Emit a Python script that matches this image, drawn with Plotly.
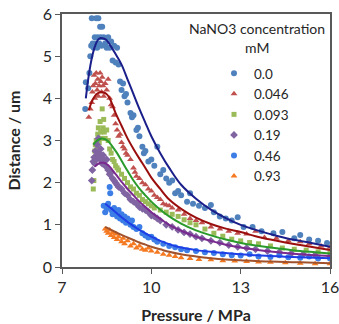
import plotly.graph_objects as go

# ---------------- data ----------------
series_names = ["0.0", "0.046", "0.093", "0.19", "0.46", "0.93"]

x_00 = [7.78,7.80,7.88,7.92,7.95,7.98,8.0,8.03,8.06,8.1,8.12,8.15,8.18,8.2,8.22,8.25,8.28,8.3,8.33,8.35,8.4,8.45,8.5,8.55,8.6,8.65,8.7,8.75,8.8,8.85,8.9,8.95,9.0,9.05,9.1,9.15,9.2,9.3,9.35,9.4,9.5,9.55,9.6,9.7,9.75,9.8,9.9,10.0,10.1,10.2,10.3,10.4,10.5,10.6,10.7,10.8,10.9,11.0,11.2,11.3,11.4,11.6,11.8,12.0,12.1,12.3,12.5,12.7,12.9,13.1,13.4,13.7,14.1,14.4,14.8,15.0,15.3,15.6,15.9]
y_00 = [3.75,4.38,4.24,4.6,5.0,5.25,5.9,5.3,5.2,5.45,5.3,5.9,5.2,5.45,5.9,5.3,5.7,5.45,5.25,5.7,5.45,5.3,5.2,5.45,5.2,5.35,4.9,5.25,4.85,5.2,4.8,4.4,4.2,4.35,4.05,4.1,3.9,3.65,3.55,3.6,3.25,3.3,3.1,2.85,2.7,2.75,2.5,2.55,2.4,2.85,2.2,2.3,2.1,2.0,2.05,1.75,1.8,1.7,1.55,1.75,1.5,1.45,1.4,1.47,1.3,1.2,1.15,1.1,1.18,0.95,0.95,0.85,0.8,0.83,0.68,0.76,0.65,0.62,0.57]

x_046 = [7.9,7.95,8.0,8.02,8.05,8.08,8.1,8.12,8.15,8.18,8.2,8.22,8.25,8.28,8.3,8.33,8.35,8.38,8.4,8.45,8.5,8.55,8.6,8.65,8.7,8.75,8.8,8.85,8.9,8.95,9.0,9.05,9.1,9.15,9.2,9.3,9.4,9.45,9.5,9.6,9.7,9.8,9.9,10.0,10.1,10.2,10.3,10.4,10.5,10.6,10.7,10.9,11.1,11.3,11.5,11.7,12.0,12.3,12.6,12.9,13.2,13.5,13.8,14.2,14.6,15.0,15.3,15.7,16.0]
y_046 = [3.55,3.75,3.9,4.15,4.3,4.55,4.0,4.35,4.6,4.2,4.45,4.05,4.3,4.6,4.4,4.15,4.5,4.3,4.05,4.35,4.2,4.45,4.0,3.85,3.8,3.6,3.4,3.25,3.1,3.15,2.95,2.85,2.8,2.7,2.65,2.55,2.35,2.25,2.15,2.1,2.0,1.95,1.85,1.8,1.7,1.65,1.6,1.5,1.47,1.45,1.4,1.35,1.25,1.15,1.1,1.05,0.95,0.9,0.85,0.8,0.78,0.85,0.7,0.68,0.62,0.6,0.55,0.5,0.47]

x_093 = [8.05,8.07,8.1,8.12,8.15,8.18,8.2,8.22,8.25,8.28,8.3,8.32,8.35,8.38,8.4,8.42,8.45,8.5,8.55,8.6,8.65,8.7,8.75,8.8,8.85,8.9,9.0,9.1,9.2,9.3,9.4,9.5,9.6,9.7,9.8,9.9,10.0,10.1,10.3,10.5,10.7,10.9,11.1,11.3,11.5,11.8,12.1,12.4,12.7,13.0,13.3,13.6,14.0,14.4,14.8,15.2,15.6,16.0]
y_093 = [1.85,2.05,2.75,2.9,3.0,2.85,3.15,3.3,2.95,3.45,3.2,3.05,3.75,3.3,3.5,3.2,3.05,3.25,3.0,2.8,2.7,2.55,2.5,2.4,2.35,2.3,2.2,2.1,2.0,1.9,1.85,1.75,1.7,1.6,1.55,1.5,1.45,1.4,1.35,1.3,1.25,1.2,1.12,1.05,1.0,0.9,0.8,0.73,0.66,0.62,0.58,0.55,0.5,0.45,0.42,0.4,0.36,0.33]

x_019 = [8.0,8.02,8.05,8.08,8.1,8.12,8.15,8.18,8.2,8.22,8.25,8.28,8.3,8.32,8.35,8.38,8.4,8.45,8.5,8.55,8.6,8.65,8.7,8.75,8.8,8.85,8.9,9.0,9.1,9.2,9.3,9.4,9.5,9.6,9.7,9.8,9.9,10.0,10.1,10.2,10.3,10.5,10.7,10.9,11.1,11.3,11.5,11.7,12.0,12.3,12.6,12.9,13.2,13.5,13.9,14.3,14.7,15.1,15.5,16.0]
y_019 = [2.05,2.3,2.5,2.6,2.45,2.75,2.55,2.9,2.65,3.05,2.7,2.55,2.8,2.6,2.45,2.65,2.5,2.4,2.55,2.3,2.2,2.25,2.1,2.05,2.0,1.95,1.9,1.85,1.75,1.7,1.6,1.55,1.5,1.42,1.38,1.35,1.3,1.22,1.2,1.15,1.1,1.0,0.95,0.88,0.82,0.78,0.72,0.68,0.62,0.58,0.52,0.48,0.45,0.42,0.38,0.35,0.32,0.3,0.28,0.25]

x_046b = [8.4,8.45,8.5,8.55,8.6,8.62,8.65,8.7,8.75,8.8,8.85,8.9,8.95,9.0,9.05,9.1,9.15,9.2,9.3,9.35,9.4,9.5,9.6,9.7,9.8,9.9,10.0,10.1,10.2,10.4,10.6,10.8,11.0,11.2,11.5,11.8,12.1,12.4,12.7,13.0,13.3,13.6,14.0,14.3,14.6,15.0,15.3,15.6,16.0]
y_046b = [1.45,1.3,1.4,1.5,1.9,1.75,1.35,1.25,1.4,1.3,1.2,1.35,1.15,1.25,1.1,1.2,1.05,1.15,1.0,1.1,0.95,0.9,0.95,0.8,0.75,0.7,0.72,0.65,0.6,0.55,0.5,0.47,0.42,0.4,0.38,0.35,0.33,0.3,0.28,0.27,0.3,0.25,0.24,0.28,0.23,0.22,0.25,0.2,0.2]

x_093b = [8.45,8.5,8.55,8.6,8.65,8.7,8.75,8.8,8.85,8.9,9.0,9.05,9.1,9.2,9.3,9.4,9.5,9.6,9.7,9.8,9.9,10.0,10.2,10.4,10.6,10.8,11.0,11.3,11.6,12.0,12.4,12.8,13.2,13.6,14.0,14.5,15.0,15.5,16.0]
y_093b = [0.9,0.85,0.8,0.88,0.75,0.82,0.7,0.78,0.65,0.72,0.6,0.68,0.55,0.62,0.5,0.55,0.45,0.5,0.42,0.4,0.45,0.38,0.35,0.3,0.28,0.25,0.22,0.2,0.18,0.17,0.15,0.14,0.13,0.12,0.11,0.1,0.09,0.08,0.08]

# fitted curves
fx_00 = [7.8,7.9,8.0,8.1,8.2,8.3,8.4,8.5,8.6,8.8,9.0,9.2,9.4,9.6,9.8,10.0,10.3,10.6,11.0,11.5,12.0,12.5,13.0,13.5,14.0,14.5,15.0,15.5,16.0]
fy_00 = [4.0,4.55,4.95,5.22,5.38,5.43,5.42,5.38,5.28,5.05,4.8,4.45,4.1,3.75,3.42,3.1,2.7,2.35,1.95,1.62,1.36,1.16,1.0,0.88,0.78,0.69,0.62,0.55,0.48]

fx_046 = [7.9,8.0,8.1,8.2,8.3,8.4,8.5,8.6,8.8,9.0,9.2,9.4,9.6,9.8,10.0,10.3,10.6,11.0,11.5,12.0,12.5,13.0,13.5,14.0,14.5,15.0,15.5,16.0]
fy_046 = [3.72,3.92,4.05,4.12,4.15,4.14,4.1,4.0,3.65,3.35,3.05,2.8,2.57,2.35,2.12,1.85,1.6,1.38,1.17,1.02,0.91,0.83,0.73,0.65,0.58,0.52,0.46,0.4]

fx_093 = [8.05,8.15,8.25,8.35,8.45,8.55,8.7,8.85,9.0,9.2,9.4,9.6,9.8,10.0,10.3,10.6,11.0,11.5,12.0,12.5,13.0,13.5,14.0,14.5,15.0,15.5,16.0]
fy_093 = [2.9,2.98,3.03,3.05,3.03,2.98,2.85,2.7,2.52,2.28,2.05,1.86,1.7,1.55,1.36,1.2,1.03,0.87,0.75,0.65,0.57,0.51,0.46,0.42,0.38,0.35,0.32]

fx_019 = [8.1,8.2,8.3,8.4,8.5,8.6,8.8,9.0,9.2,9.4,9.6,9.8,10.0,10.3,10.6,11.0,11.5,12.0,12.5,13.0,13.5,14.0,14.5,15.0,15.5,16.0]
fy_019 = [2.38,2.44,2.47,2.47,2.44,2.38,2.2,2.02,1.85,1.7,1.55,1.42,1.3,1.14,1.0,0.86,0.72,0.62,0.53,0.46,0.41,0.37,0.33,0.3,0.28,0.26]

fx_046b = [8.45,8.6,8.8,9.0,9.2,9.4,9.6,9.8,10.0,10.3,10.6,11.0,11.5,12.0,12.5,13.0,13.5,14.0,14.5,15.0,15.5,16.0]
fy_046b = [1.5,1.42,1.3,1.18,1.07,0.97,0.88,0.8,0.72,0.62,0.54,0.46,0.4,0.36,0.33,0.3,0.28,0.26,0.245,0.23,0.22,0.21]

fx_093b = [8.45,8.6,8.8,9.0,9.2,9.4,9.6,9.8,10.0,10.3,10.6,11.0,11.5,12.0,12.5,13.0,13.5,14.0,14.5,15.0,15.5,16.0]
fy_093b = [0.95,0.9,0.83,0.76,0.7,0.64,0.58,0.53,0.48,0.42,0.36,0.3,0.25,0.21,0.18,0.16,0.14,0.13,0.12,0.11,0.1,0.09]

x_ticks = [7, 10, 13, 16]
y_ticks = [0, 1, 2, 3, 4, 5, 6]
legend_title_lines = ["NaNO3 concentration", "mM"]

# ---------------- styles ----------------
pts = [(x_00, y_00), (x_046, y_046), (x_093, y_093), (x_019, y_019), (x_046b, y_046b), (x_093b, y_093b)]
fits = [(fx_00, fy_00), (fx_046, fy_046), (fx_093, fy_093), (fx_019, fy_019), (fx_046b, fy_046b), (fx_093b, fy_093b)]
mcolors = ["#4F81BD", "#C0504D", "#9BBB59", "#8064A2", "#3C7EE6", "#F47920"]
msymbols = ["circle", "triangle-up", "square", "diamond", "circle", "triangle-up"]
msizes = [6, 6, 5, 6, 6, 6]
lcolors = ["#1B1F8A", "#9A0E0E", "#2A9A2A", "#7A2A8E", "#1E3FE6", "#A0522D"]

FONT = "Lato"
fig = go.Figure()
for i, (xs, ys) in enumerate(pts):
    fig.add_trace(go.Scatter(x=xs, y=ys, mode="markers", name=series_names[i],
                             marker=dict(color=mcolors[i], symbol=msymbols[i], size=msizes[i],
                                         line=dict(width=0))))
for i, (xs, ys) in enumerate(fits):
    fig.add_trace(go.Scatter(x=xs, y=ys, mode="lines", showlegend=False,
                             line=dict(color=lcolors[i], width=2, shape="spline"),
                             hoverinfo="skip"))

axis_common = dict(showgrid=False, zeroline=False, showline=True, mirror=True, automargin=False,
                   linecolor="#595959", linewidth=1.5, ticks="outside", ticklen=5,
                   tickcolor="#595959", ticklabeloverflow="allow",
                   tickfont=dict(family=FONT, size=16, color="#262626"))

W, H = 339, 324
# plot area in pixels: left 62, right 330, top 14, bottom 267
PL, PR, PT, PB = 62, 330, 14, 267
def px_x(p):
    return (p - PL) / (PR - PL)
def px_y(p):
    return (PB - p) / (PB - PT)

fig.update_layout(
    width=W, height=H,
    margin=dict(l=PL, r=W - PR, t=PT, b=H - PB),
    paper_bgcolor="white", plot_bgcolor="white",
    font=dict(family=FONT, color="#262626"),
    xaxis=dict(range=[7, 16], tickvals=x_ticks, **axis_common,
               title=dict(text="<b>Pressure / MPa</b>", font=dict(family=FONT, size=16), standoff=20)),
    yaxis=dict(range=[0, 6], tickvals=y_ticks, **axis_common,
               title=dict(text="<b>Distance / um</b>", font=dict(family=FONT, size=16), standoff=18)),
    legend=dict(x=px_x(214), y=px_y(58), xanchor="left", yanchor="top", bgcolor="rgba(0,0,0,0)",
                font=dict(family=FONT, size=13.5, color="#262626"), itemwidth=30,
                tracegroupgap=0),
    annotations=[
        dict(text=legend_title_lines[0], x=px_x(257), y=px_y(28), xref="paper", yref="paper",
             xanchor="center", yanchor="middle", showarrow=False,
             font=dict(family=FONT, size=14, color="#262626")),
        dict(text=legend_title_lines[1], x=px_x(257), y=px_y(47), xref="paper", yref="paper",
             xanchor="center", yanchor="middle", showarrow=False,
             font=dict(family=FONT, size=14, color="#262626")),
    ],
)

# remove the browser's default 8px page margin so the figure fills the window
fig.write_html("out.html", config={"displayModeBar": False},
               post_script="document.body.style.margin='0';")
